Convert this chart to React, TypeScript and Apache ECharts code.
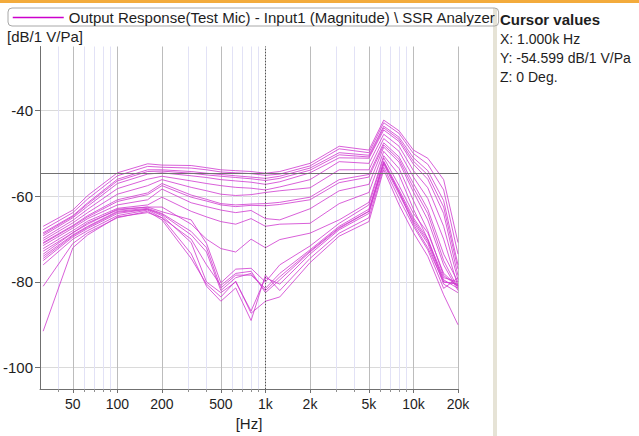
import React, { useEffect, useRef } from 'react';
import * as echarts from 'echarts';

// Frequencies of the measured points [Hz]
const freqHz = [31.5, 50, 63, 100, 160, 200, 315, 400, 500, 630, 800, 1000, 1250, 2000, 3150, 5000, 6300, 8000, 10000, 12500, 16000, 20000];

// Magnitude curves [dB/1 V/Pa]
const curveA0 = [-67.0, -63.2, -59.8, -54.5, -52.4, -52.7, -52.8, -53.3, -53.8, -54.0, -54.2, -54.6, -54.2, -52.3, -48.3, -49.2, -42.2, -44.7, -49.2, -51.1, -56.1, -70.8];
const curveA1 = [-67.8, -63.8, -60.6, -55.2, -53.0, -53.2, -53.4, -53.8, -54.3, -54.5, -54.7, -55.1, -54.8, -52.9, -48.9, -49.8, -42.8, -45.3, -50.0, -52.5, -58.5, -73.5];
const curveA2 = [-68.5, -64.5, -61.5, -56.0, -53.8, -53.8, -54.2, -54.6, -54.9, -55.2, -55.5, -55.8, -55.3, -53.4, -49.8, -50.4, -43.6, -46.2, -51.0, -54.0, -61.0, -76.0];
const curveA2b = [-68.8, -64.7, -61.8, -56.4, -54.2, -54.1, -54.6, -55.0, -55.3, -55.6, -55.9, -56.3, -55.8, -53.9, -50.3, -50.8, -44.0, -46.7, -51.8, -55.0, -62.5, -77.0];
const curveA3 = [-69.2, -65.0, -62.3, -57.0, -54.8, -54.5, -55.2, -55.6, -56.1, -56.4, -56.7, -57.2, -56.6, -54.5, -51.0, -51.1, -44.5, -47.2, -52.5, -56.0, -64.0, -78.5];
const curveA4 = [-69.8, -65.6, -63.0, -58.2, -56.0, -55.3, -56.4, -57.0, -57.5, -57.9, -58.1, -58.5, -57.8, -56.1, -51.9, -52.3, -45.5, -48.3, -54.0, -58.0, -67.0, -79.5];
const curveA5 = [-70.3, -66.2, -63.8, -59.5, -57.5, -56.1, -57.9, -58.7, -59.5, -59.8, -59.6, -59.1, -58.7, -58.0, -53.8, -53.8, -46.5, -49.5, -55.5, -60.5, -70.0, -81.0];
const curveA6 = [-70.8, -66.8, -64.5, -60.8, -59.2, -57.0, -59.7, -60.7, -61.7, -62.0, -61.8, -61.7, -61.4, -60.2, -56.1, -54.9, -47.5, -50.8, -57.0, -63.0, -73.5, -80.0];
const curveA6b = [-71.0, -67.0, -64.8, -61.2, -59.6, -57.5, -60.2, -61.1, -62.0, -62.4, -62.1, -62.2, -61.9, -60.8, -56.8, -55.5, -48.0, -51.4, -58.0, -64.0, -75.0, -81.5];
const curveA7 = [-71.5, -67.4, -65.2, -62.0, -60.8, -58.3, -61.5, -62.4, -63.2, -63.8, -63.3, -65.2, -65.5, -62.9, -58.7, -57.2, -48.5, -52.0, -59.0, -65.5, -76.0, -82.0];
const curveA8 = [-72.2, -68.0, -65.8, -62.8, -62.0, -60.2, -63.5, -64.8, -65.9, -66.5, -65.2, -67.0, -66.5, -66.3, -61.7, -59.1, -49.5, -53.5, -61.0, -68.0, -78.5, -81.0];
const curveA9 = [-72.8, -68.5, -66.2, -63.2, -62.5, -62.5, -66.5, -70.0, -72.2, -73.0, -70.0, -72.0, -70.1, -68.6, -65.5, -61.4, -50.5, -55.0, -63.0, -70.0, -80.0, -80.5];
const curveB0 = [-73.5, -68.5, -66.5, -63.0, -62.5, -63.6, -65.5, -71.0, -80.2, -77.0, -76.8, -80.0, -76.0, -71.6, -66.3, -62.0, -51.0, -57.5, -64.0, -68.5, -78.0, -81.0];
const curveB1 = [-74.0, -69.0, -67.0, -63.5, -62.8, -64.0, -68.2, -72.0, -81.4, -78.4, -78.4, -81.5, -78.0, -72.5, -67.0, -63.0, -51.8, -58.5, -65.0, -70.0, -79.0, -80.0];
const curveB1b = [-74.5, -69.2, -67.2, -63.7, -63.0, -64.2, -69.0, -73.0, -82.0, -79.0, -78.0, -82.0, -78.8, -72.8, -67.3, -63.5, -52.2, -59.0, -65.5, -70.5, -79.5, -81.5];
const curveB2 = [-75.0, -69.5, -67.5, -64.0, -63.0, -64.5, -70.8, -80.0, -82.5, -80.0, -86.8, -79.0, -80.5, -73.5, -67.8, -64.0, -52.5, -59.5, -66.0, -71.0, -80.5, -82.5];
const curveB3 = [-76.0, -70.0, -68.0, -64.5, -63.2, -65.0, -73.4, -81.0, -84.5, -81.4, -89.0, -78.4, -82.0, -74.5, -68.6, -65.0, -53.2, -60.5, -67.0, -72.5, -81.5, -79.0];
const curveB4 = [-81.0, -71.0, -68.5, -65.0, -63.5, -65.5, -74.5, -80.5, -83.5, -79.8, -87.3, -84.5, -83.5, -75.5, -69.3, -65.9, -53.8, -62.0, -68.5, -74.0, -83.0, -90.0];
const curveB5 = [-91.5, -72.0, -69.0, -64.8, -63.8, -65.0, -70.0, -76.0, -80.8, -78.0, -77.5, -82.5, -79.5, -73.0, -67.5, -63.5, -52.0, -59.0, -66.5, -72.0, -80.0, -80.5];

const curves = [curveA0, curveA1, curveA2, curveA2b, curveA3, curveA4, curveA5, curveA6, curveA6b, curveA7, curveA8, curveA9, curveB0, curveB1, curveB1b, curveB2, curveB3, curveB4, curveB5];

// Axes
const majorTicksHz = [50, 100, 200, 500, 1000, 2000, 5000, 10000, 20000];
const minorTicksHz = [40, 60, 70, 80, 90, 300, 400, 600, 700, 800, 900, 3000, 4000, 6000, 7000, 8000, 9000];
const dbTicks = [-100, -80, -60, -40];
const xMinHz = 30;
const xMaxHz = 20000;
const yMinDb = -105;
const yMaxDb = -25;

// Cursor
const cursorHz = 1000;
const cursorDb = -54.599;
const cursorLines = ['X: 1.000k Hz', 'Y: -54.599 dB/1 V/Pa', 'Z: 0 Deg.'];

const seriesName = 'Output Response(Test Mic) - Input1 (Magnitude) \\ SSR Analyzer';
const FONT = 'Liberation Sans, Arial, sans-serif';

const lg = (v: number) => Math.log10(v);
const fmtHz = (v: number) => {
  const f = Math.round(Math.pow(10, v));
  return f >= 1000 ? f / 1000 + 'k' : String(f);
};

export default function App() {
  const ref = useRef<HTMLDivElement>(null);
  useEffect(() => {
    document.body.style.margin = '0';
    const chart = echarts.init(ref.current!, undefined, { renderer: 'svg' });
    const series: any[] = curves.map((c, i) => ({
      type: 'line',
      name: seriesName,
      xAxisIndex: 0,
      yAxisIndex: 0,
      data: freqHz.map((f, j) => [lg(f), c[j]]),
      symbol: 'none',
      silent: true,
      lineStyle: { color: '#d038d0', width: 1, opacity: 0.8 },
      itemStyle: { color: '#cc00cc' },
      emphasis: { disabled: true },
      z: 3,
      markLine: i === 0 ? {
        silent: true,
        symbol: 'none',
        animation: false,
        label: { show: false },
        emphasis: { disabled: true },
        data: [
          { xAxis: lg(cursorHz), lineStyle: { color: '#505050', type: [1, 2], width: 1 } },
          { yAxis: cursorDb, lineStyle: { color: '#707070', type: 'solid', width: 1 } },
        ],
      } : undefined,
    }));
    chart.setOption({
      animation: false,
      backgroundColor: '#ffffff',
      textStyle: { fontFamily: FONT },
      grid: { left: 40, top: 46.5, right: 181, bottom: 40, containLabel: false },
      legend: {
        show: true,
        data: [seriesName],
        left: 8,
        top: 8,
        padding: [2, 3, 1, 4],
        itemWidth: 51,
        itemHeight: 14,
        borderColor: '#a8a8a8',
        borderWidth: 1,
        borderRadius: 4,
        selectedMode: false,
        itemStyle: { opacity: 0 },
        lineStyle: { width: 1.5, color: '#cc00cc', opacity: 1 },
        textStyle: { fontFamily: FONT, fontSize: 15, color: '#1e1e1e' },
      },
      xAxis: [
        {
          type: 'value',
          min: lg(xMinHz),
          max: lg(xMaxHz),
          position: 'bottom',
          name: '[Hz]',
          nameLocation: 'middle',
          nameGap: 27,
          nameTextStyle: { fontFamily: FONT, fontSize: 15, color: '#1e1e1e' },
          axisLine: { show: true, onZero: false, lineStyle: { color: '#707070', width: 1 } },
          axisTick: { show: true, length: 4, customValues: majorTicksHz.map(lg), lineStyle: { color: '#707070' } },
          axisLabel: { show: true, customValues: majorTicksHz.map(lg), formatter: fmtHz, margin: 8, fontFamily: FONT, fontSize: 14, color: '#1e1e1e' },
          splitLine: { show: true, lineStyle: { color: '#bcbcbc', width: 1 } },
        },
        {
          type: 'value',
          min: lg(xMinHz),
          max: lg(xMaxHz),
          position: 'bottom',
          offset: 0,
          axisLine: { show: false, onZero: false },
          axisTick: { show: true, length: 3, customValues: minorTicksHz.map(lg), lineStyle: { color: '#909090' } },
          axisLabel: { show: false, customValues: minorTicksHz.map(lg) },
          splitLine: { show: true, lineStyle: { color: '#e2e2f6', width: 1 } },
        },
      ],
      yAxis: {
        type: 'value',
        min: yMinDb,
        max: yMaxDb,
        name: '[dB/1 V/Pa]',
        nameLocation: 'end',
        nameGap: 3,
        nameTextStyle: { fontFamily: FONT, fontSize: 15, color: '#1e1e1e', align: 'left', padding: [0, 0, 0, -33] },
        axisLine: { show: true, onZero: false, lineStyle: { color: '#707070', width: 1 } },
        axisTick: { show: true, length: 5, customValues: dbTicks, lineStyle: { color: '#707070' } },
        axisLabel: { show: true, customValues: dbTicks, margin: 7, fontFamily: FONT, fontSize: 15, color: '#1e1e1e' },
        splitLine: { show: true, lineStyle: { color: '#dadada', width: 1 } },
      },
      graphic: [
        { type: 'rect', left: 0, top: 0, shape: { x: 0, y: 0, width: 639, height: 3 }, style: { fill: '#f3ab3c' }, silent: true },
        { type: 'rect', shape: { x: 493, y: 8, width: 4, height: 428 }, style: { fill: '#e6e3d6' }, silent: true },
        { type: 'text', x: 500, y: 19, silent: true, style: { text: 'Cursor values', fontFamily: FONT, fontSize: 15, fontWeight: 'bold', fill: '#1e1e1e', verticalAlign: 'middle' } },
        ...cursorLines.map((t, i) => ({ type: 'text', x: 500, y: 38.5 + i * 19.3, silent: true, style: { text: t, fontFamily: FONT, fontSize: 14, fill: '#1e1e1e', verticalAlign: 'middle' } })),
      ],
      series,
    });
    return () => chart.dispose();
  }, []);
  return <div ref={ref} style={{ position: 'fixed', left: 0, top: 0, width: 639, height: 436 }} />;
}
